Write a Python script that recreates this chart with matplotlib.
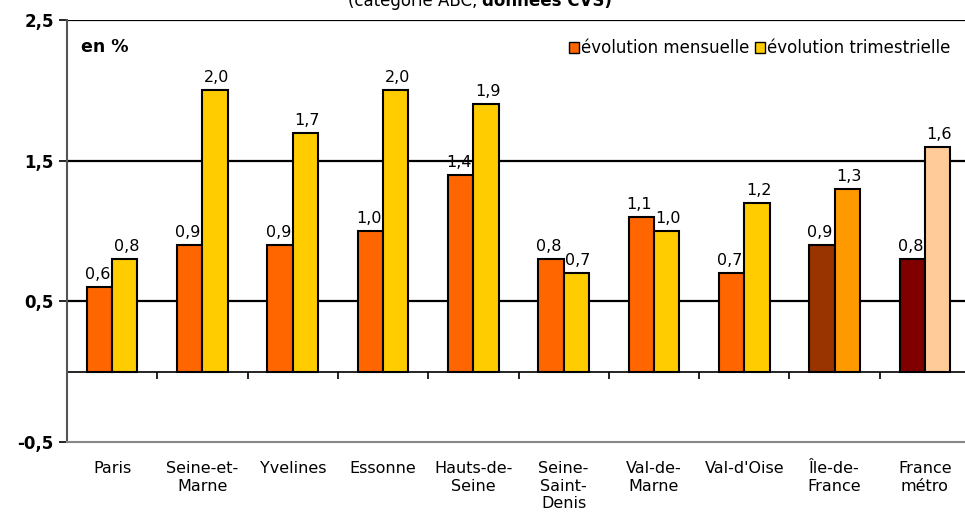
import numpy as np
import matplotlib.pyplot as plt
from matplotlib.patches import Patch

categories = ["Paris", "Seine-et-\nMarne", "Yvelines", "Essonne", "Hauts-de-\nSeine",
              "Seine-\nSaint-\nDenis", "Val-de-\nMarne", "Val-d'Oise", "Île-de-\nFrance", "France\nmétro"]
mensuelle = [0.6, 0.9, 0.9, 1.0, 1.4, 0.8, 1.1, 0.7, 0.9, 0.8]
trimestrielle = [0.8, 2.0, 1.7, 2.0, 1.9, 0.7, 1.0, 1.2, 1.3, 1.6]
yticks = [-0.5, 0.5, 1.5, 2.5]

col_m = ["#FF6600"] * 8 + ["#993300", "#800000"]
col_t = ["#FFCC00"] * 8 + ["#FF9900", "#FFCC99"]

plt.rcParams['font.family'] = ['DejaVu Sans']

fig = plt.figure(figsize=(9.65, 5.22), dpi=100)
ax = fig.add_axes([67 / 965, 80 / 522, 903 / 965, 422 / 522])

x = np.arange(len(categories))
w = 0.28
ax.bar(x - w / 2, mensuelle, w, color=col_m, edgecolor="black", linewidth=1.5, zorder=3)
ax.bar(x + w / 2, trimestrielle, w, color=col_t, edgecolor="black", linewidth=1.5, zorder=3)

fmt = lambda v: f"{v:.1f}".replace(".", ",")
for i in range(len(categories)):
    ax.text(x[i] - w / 2 - 0.02, mensuelle[i] + 0.035, fmt(mensuelle[i]), ha="center", va="bottom",
            fontsize=11.5, zorder=4)
    ax.text(x[i] + w / 2 + 0.02, trimestrielle[i] + 0.035, fmt(trimestrielle[i]), ha="center", va="bottom",
            fontsize=11.5, zorder=4)

ax.set_xlim(-0.5, len(categories) - 0.5)
ax.set_ylim(-0.5, 2.5)
for yv in yticks[1:]:
    ax.axhline(yv, color="black", linewidth=1.6, zorder=1)
ax.axhline(0, color="black", linewidth=1.2, zorder=2)
ax.vlines(x[:-1] + 0.5, -0.05, 0, color="black", linewidth=1.2, zorder=2)

ax.set_yticks(yticks)
ax.set_yticklabels([fmt(v) for v in yticks], fontsize=12, fontweight="bold")
ax.set_xticks(x)
ax.set_xticklabels(categories, fontsize=11.5, linespacing=1.2, va="top")
ax.tick_params(axis="x", length=0, pad=14)
ax.tick_params(axis="y", length=6, width=1.2, colors="black")
for s in ["top", "right"]:
    ax.spines[s].set_visible(False)
ax.spines["left"].set_color("#555555")
ax.spines["left"].set_linewidth(1.5)
ax.spines["bottom"].set_color("#888888")
ax.spines["bottom"].set_linewidth(1.5)

ax.text(0.015, 0.935, "en %", transform=ax.transAxes, fontsize=12.5, fontweight="bold", va="center")

handles = [Patch(facecolor="#FF6600", edgecolor="black", label="évolution mensuelle"),
           Patch(facecolor="#FFCC00", edgecolor="black", label="évolution trimestrielle")]
ax.legend(handles=handles, loc="upper right", bbox_to_anchor=(0.995, 0.99), ncol=2, frameon=False,
          fontsize=12, handlelength=0.6, handleheight=0.6, handletextpad=0.15, columnspacing=0.3)

fig.text(0.5, 1 - 6 / 522, "(catégorie ABC, ", ha="right", va="baseline", fontsize=12)
fig.text(0.5, 1 - 6 / 522, "données CVS)", ha="left", va="baseline", fontsize=12, fontweight="bold")

fig.savefig("out.png", dpi=100)
